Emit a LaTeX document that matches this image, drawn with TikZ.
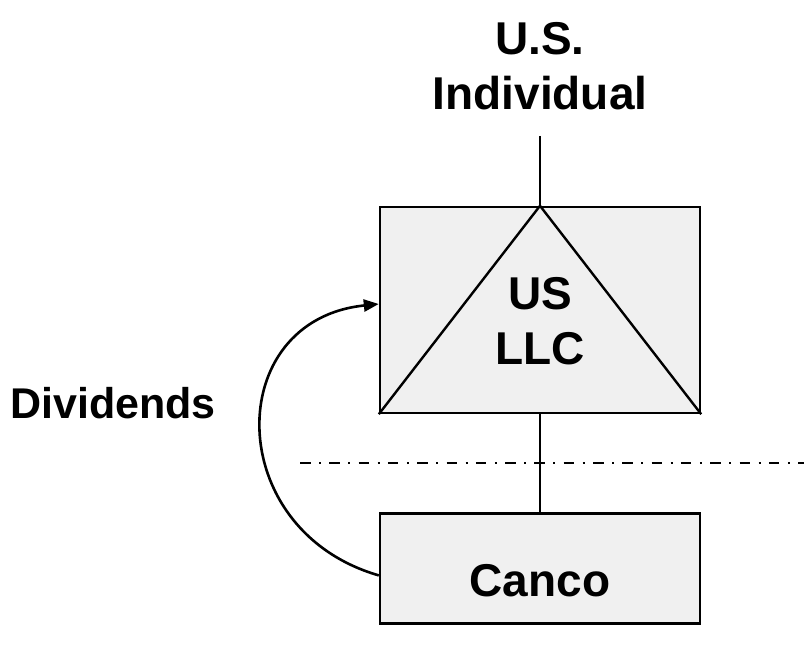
\documentclass[tikz,border=0pt]{standalone}
\usepackage{fontspec}
\setmainfont{Liberation Sans}
\usetikzlibrary{positioning,arrows.meta}
\definecolor{boxgray}{HTML}{F0F0F0}
\begin{document}
\begin{tikzpicture}[x=1pt,y=-1pt,>={Triangle[length=15pt,width=12pt]},font=\fontsize{46}{55}\selectfont\bfseries]
    \useasboundingbox (0,0) rectangle (804,648);

    % Define node styles
    \tikzstyle{llc_block} = [draw, line width=2.4pt, fill=boxgray, minimum width=320pt, minimum height=206pt, inner sep=0pt]
    \tikzstyle{canco_block} = [draw, line width=2.4pt, fill=boxgray, minimum width=320pt, minimum height=110pt, inner sep=0pt]
    \tikzstyle{owner_label} = [align=center, inner xsep=0pt, inner ysep=26pt]
    \tikzstyle{entity_label} = [align=center, inner sep=0pt]
    \tikzstyle{flow_label} = [inner sep=0pt, font=\fontsize{43}{52}\selectfont\bfseries]
    \tikzstyle{link} = [line width=2.4pt]
    \tikzstyle{divider} = [line width=2.4pt, dash pattern=on 10.5pt off 8.5pt on 2pt off 8.3pt]

    % Draw nodes
    \node [llc_block] (llc) at (540,310) {};
    \node [entity_label] (llc_text) at ([yshift=-11pt]llc.center) {US\\LLC};
    \node [owner_label, above=70pt of llc] (indiv) {U.S.\\Individual};
    \node [canco_block, below=98pt of llc] (canco) {};
    \node [entity_label] (canco_text) at ([yshift=-12pt]canco.center) {Canco};
    \node [flow_label] (dividends) at (113,403) {Dividends};
    \coordinate (border_start) at (300,463);
    \coordinate (border_end) at (804,463);

    % Draw lines
    \draw [link] (llc.south west) -- (llc.north) -- (llc.south east);
    \draw [link] (indiv.south) -- (llc.north);
    \draw [link] (llc.south) -- (canco.north);
    \draw [divider] (border_start) -- (border_end);

    % Draw arrows
    \draw [->, line width=2.6pt] ([yshift=-7pt]canco.west) .. controls (222,530) and (222,320) .. ([yshift=6pt]llc.west);

\end{tikzpicture}
\end{document}
